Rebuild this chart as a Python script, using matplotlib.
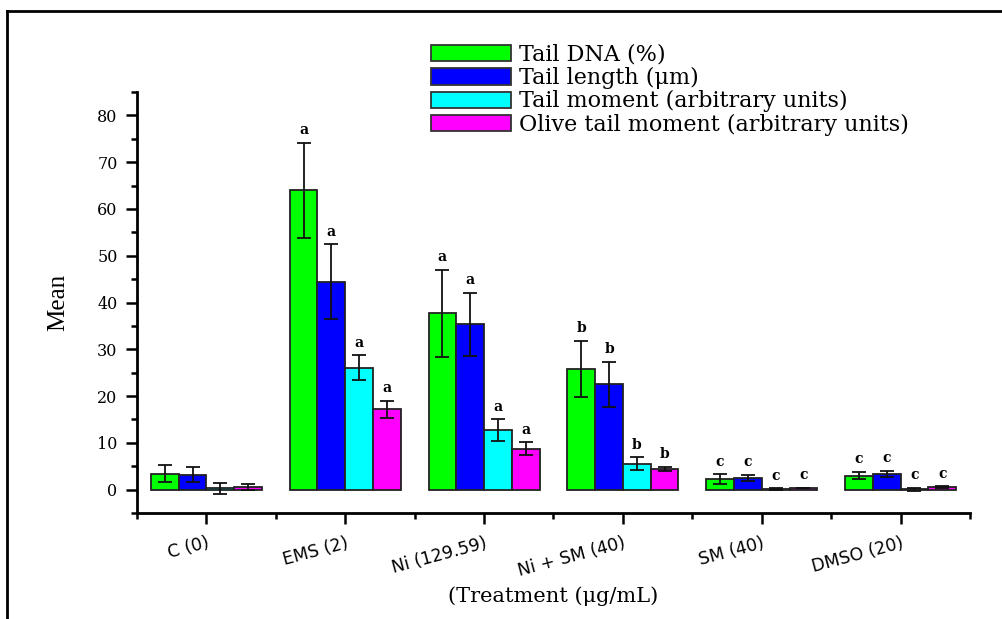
import numpy as np
import matplotlib
matplotlib.use("Agg")
import matplotlib.pyplot as plt
from matplotlib.lines import Line2D
from matplotlib.ticker import MultipleLocator

# Comet assay parameters per treatment (mean ± SD)
treatments = ["C (0)", "EMS (2)", "Ni (129.59)", "Ni + SM (40)", "SM (40)", "DMSO (20)"]
series_names = ["Tail DNA (%)", "Tail length (\u03bcm)",
                "Tail moment (arbitrary units)", "Olive tail moment (arbitrary units)"]

tail_dna = [3.4, 64.0, 37.7, 25.8, 2.3, 3.0]
tail_dna_sd = [1.8, 10.2, 9.3, 6.0, 1.0, 0.8]
tail_length = [3.2, 44.4, 35.3, 22.5, 2.5, 3.4]
tail_length_sd = [1.6, 8.0, 6.8, 4.8, 0.7, 0.65]
tail_moment = [0.3, 26.1, 12.7, 5.5, 0.1, 0.1]
tail_moment_sd = [1.2, 2.6, 2.3, 1.4, 0.15, 0.35]
olive_moment = [0.6, 17.2, 8.7, 4.4, 0.35, 0.55]
olive_moment_sd = [0.6, 1.8, 1.4, 0.5, 0.1, 0.15]

# Significance letters per treatment group ("" = none)
group_letters = ["", "a", "a", "b", "c", "c"]

means = [tail_dna, tail_length, tail_moment, olive_moment]
sds = [tail_dna_sd, tail_length_sd, tail_moment_sd, olive_moment_sd]
colors = ["#00ff00", "#0000ff", "#00ffff", "#ff00ff"]

W, H = 1003, 619
fig = plt.figure(figsize=(W / 100, H / 100), dpi=100)
ax = fig.add_axes([137 / W, 1 - 513 / H, (970 - 137) / W, (513 - 92) / H])

x = np.arange(len(treatments))
bw = 0.2
offsets = [-0.3, -0.1, 0.1, 0.3]

for vals, err, col, off, name in zip(means, sds, colors, offsets, series_names):
    ax.bar(x + off, vals, width=bw, color=col, edgecolor="#222222",
           linewidth=1.3, label=name, zorder=2)
    ax.errorbar(x + off, vals, yerr=err, fmt="none", ecolor="#111111",
                elinewidth=1.3, capsize=5, capthick=1.3, zorder=3)
    for xi, v, e, lt in zip(x + off, vals, err, group_letters):
        if lt:
            ax.annotate(lt, (xi, v + e), xytext=(0, 4), textcoords="offset points",
                        ha="center", va="bottom", fontsize=10, fontweight="bold",
                        family="DejaVu Serif")

ax.set_xlim(-0.5, len(treatments) - 0.5)
ax.set_ylim(-5, 85)
ax.yaxis.set_major_locator(MultipleLocator(10))
ax.yaxis.set_minor_locator(MultipleLocator(5))
ax.set_xticks(x)
ax.set_xticks(np.arange(-0.5, len(treatments)), minor=True)
ax.set_xticklabels(treatments, rotation=15, ha="right", rotation_mode="anchor",
                   family="DejaVu Sans", fontsize=12.5)
for lbl in ax.get_yticklabels():
    lbl.set_family("DejaVu Serif")
    lbl.set_fontsize(11.5)

for s in ["top", "right"]:
    ax.spines[s].set_visible(False)
for s in ["left", "bottom"]:
    ax.spines[s].set_linewidth(2)
ax.tick_params(which="major", direction="out", length=8, width=1.8, pad=6)
ax.tick_params(which="minor", direction="out", length=4.5, width=1.8)
ax.tick_params(axis="x", which="major", pad=7)

ax.set_ylabel("Mean", family="Liberation Serif", fontsize=18, labelpad=20)
ax.set_xlabel("(Treatment (\u03bcg/mL)", family="DejaVu Serif", fontsize=15, labelpad=5)

leg = fig.legend(loc="upper left", bbox_to_anchor=(431 / W, 1 - 44 / H),
                 frameon=False, prop={"family": "DejaVu Serif", "size": 16},
                 handlelength=3.6, handleheight=0.75, handletextpad=0.35,
                 labelspacing=0.05, borderpad=0, borderaxespad=0)
for p in leg.get_patches():
    p.set_edgecolor("#333333")
    p.set_linewidth(1.3)

# Outer frame lines (top and left)
fig.add_artist(Line2D([7.5 / W, 1], [1 - 11 / H, 1 - 11 / H], transform=fig.transFigure,
                      color="black", linewidth=2))
fig.add_artist(Line2D([7.5 / W, 7.5 / W], [0, 1 - 11 / H], transform=fig.transFigure,
                      color="black", linewidth=2))

fig.savefig("out.png", dpi=100)
